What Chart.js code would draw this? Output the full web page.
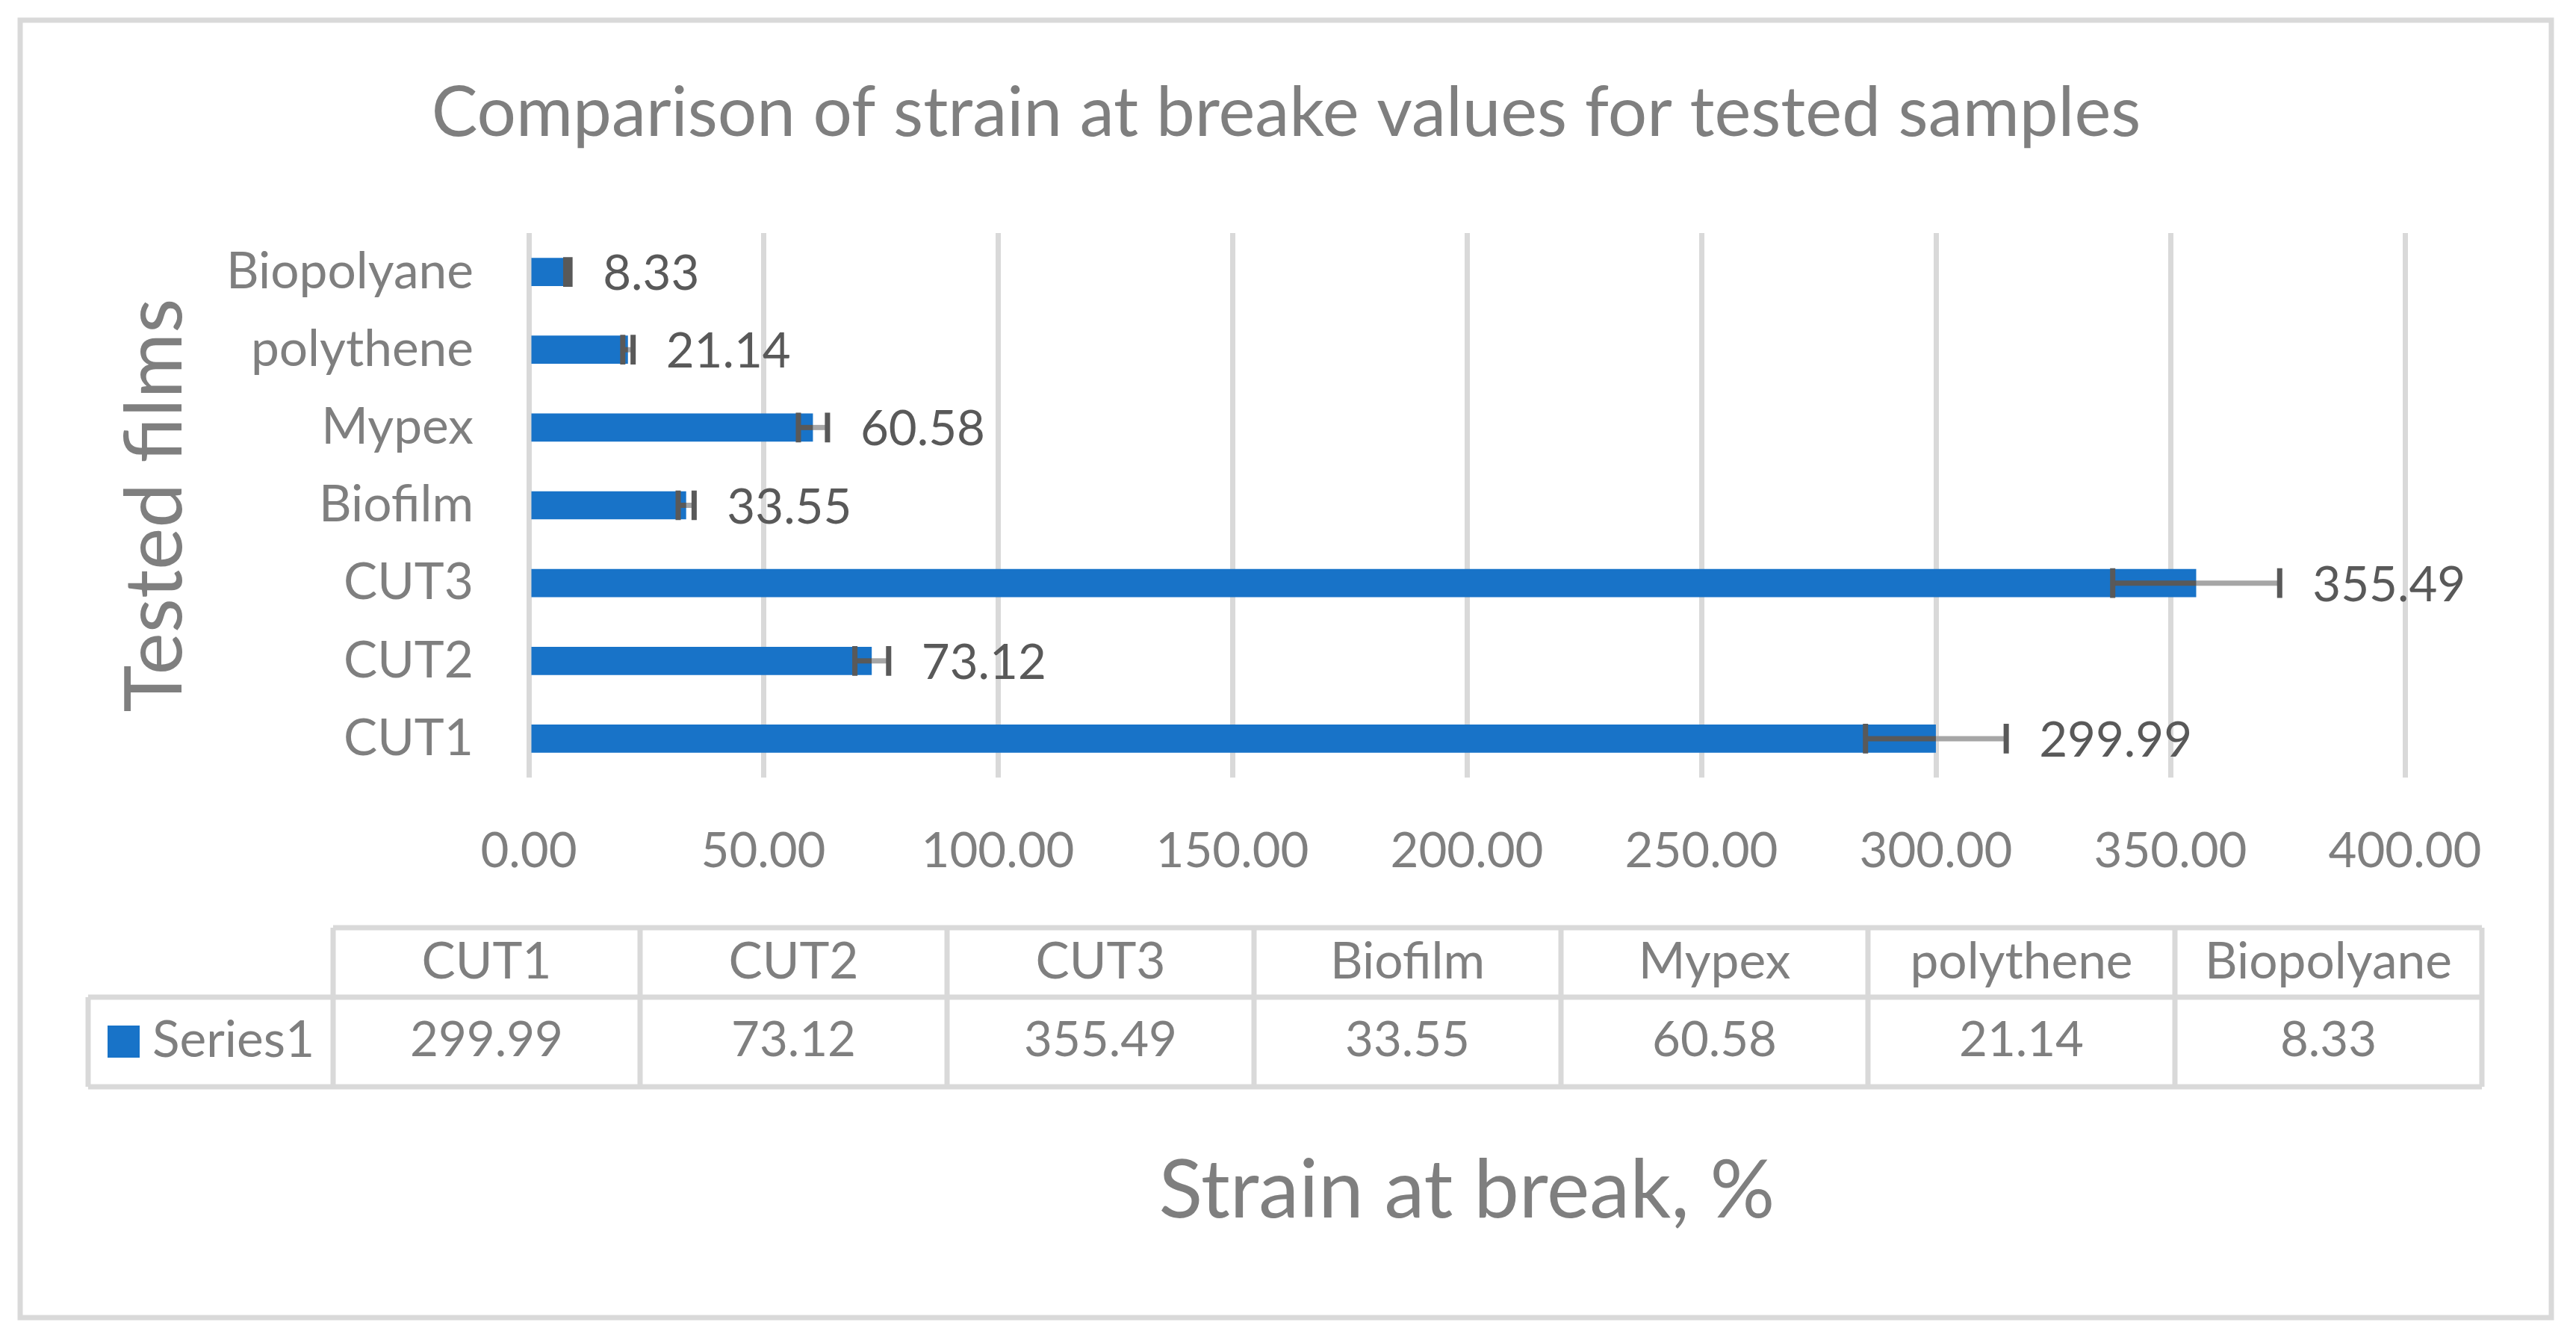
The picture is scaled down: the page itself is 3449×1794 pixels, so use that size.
<!DOCTYPE html>
<html><head><meta charset="utf-8">
<script src="https://cdn.jsdelivr.net/npm/chart.js@4.4.1/dist/chart.umd.min.js"></script>
<style>html,body{margin:0;padding:0;background:#fff;}canvas{display:block;}</style>
</head><body>
<canvas id="c" width="3449" height="1794" style="width:3449px;height:1794px"></canvas>
<script>
// ---- data ----
const categories = ['CUT1', 'CUT2', 'CUT3', 'Biofilm', 'Mypex', 'polythene', 'Biopolyane'];
const strainValues = [299.99, 73.12, 355.49, 33.55, 60.58, 21.14, 8.33];
const strainErrors = [15.0, 3.6, 17.8, 1.7, 3.1, 1.1, 0.45];
const xTickValues = [0, 50, 100, 150, 200, 250, 300, 350, 400];
const seriesName = 'Series1';
const chartTitle = 'Comparison of strain at breake values for tested samples';
const xAxisTitle = 'Strain at break, %';
const yAxisTitle = 'Tested films';

// ---- style ----
const FAMILY = 'Lato, "Open Sans", "Noto Sans", sans-serif';
const BLUE = '#1873C8';
const GRAY = '#7f7f7f';
const DARK = '#595959';
const LINE = '#d9d9d9';

function fit(text, target) {
  const c = document.createElement('canvas').getContext('2d');
  c.font = '100px ' + FAMILY;
  return 100 * target / c.measureText(text).width;
}

function build() {
  const numSize = fit('400.00', 205);
  const textSize = fit('Biopolyane', 331);
  const titleSize = fit(chartTitle, 2289);
  const xTitleSize = fit(xAxisTitle, 825);
  const yTitleSize = fit(yAxisTitle, 554);

  const extras = {
    id: 'extras',
    afterDatasetsDraw(chart) {
      const ctx = chart.ctx;
      const xs = chart.scales.x;
      const meta = chart.getDatasetMeta(0);
      ctx.save();
      meta.data.forEach((bar, i) => {
        const v = strainValues[i], e = strainErrors[i];
        const y = bar.y, h = bar.height;
        const xv = xs.getPixelForValue(v);
        const xl = xs.getPixelForValue(v - e);
        const xr = xs.getPixelForValue(v + e);
        ctx.lineWidth = 7;
        ctx.lineCap = 'butt';
        ctx.strokeStyle = '#a6a6a6';
        ctx.beginPath(); ctx.moveTo(xv, y); ctx.lineTo(xr, y); ctx.stroke();
        ctx.strokeStyle = DARK;
        ctx.beginPath(); ctx.moveTo(xl, y); ctx.lineTo(xv, y); ctx.stroke();
        ctx.beginPath();
        ctx.moveTo(xl, y - h / 2 - 1); ctx.lineTo(xl, y + h / 2 + 1);
        ctx.moveTo(xr, y - h / 2 - 1); ctx.lineTo(xr, y + h / 2 + 1);
        ctx.stroke();
        // data label
        ctx.fillStyle = DARK;
        ctx.font = numSize + 'px ' + FAMILY;
        ctx.textAlign = 'left';
        ctx.textBaseline = 'middle';
        ctx.fillText(v.toFixed(2), xr + 44, y + 3);
      });
      ctx.restore();
    },
    afterDraw(chart) {
      const ctx = chart.ctx;
      ctx.save();
      // outer border
      ctx.strokeStyle = LINE;
      ctx.lineWidth = 7;
      ctx.strokeRect(27, 27, 3389, 1737);
      // title
      ctx.fillStyle = GRAY;
      ctx.font = titleSize + 'px ' + FAMILY;
      ctx.textAlign = 'center';
      ctx.textBaseline = 'alphabetic';
      ctx.fillText(chartTitle, 1722, 182);
      // data table
      const tL = 446, tR = 3323, keyL = 118;
      const rTop = 1242, rMid = 1335, rBot = 1455;
      const colW = (tR - tL) / categories.length;
      ctx.strokeStyle = LINE;
      ctx.lineWidth = 7;
      ctx.beginPath();
      ctx.moveTo(tL, rTop); ctx.lineTo(tR, rTop);
      ctx.moveTo(keyL, rMid); ctx.lineTo(tR, rMid);
      ctx.moveTo(keyL, rBot); ctx.lineTo(tR, rBot);
      ctx.moveTo(keyL, rMid); ctx.lineTo(keyL, rBot);
      for (let i = 0; i <= categories.length; i++) {
        const x = tL + i * colW;
        ctx.moveTo(x, rTop); ctx.lineTo(x, rBot);
      }
      ctx.stroke();
      ctx.fillStyle = GRAY;
      ctx.textAlign = 'center';
      ctx.textBaseline = 'middle';
      categories.forEach((c, i) => {
        const cx = tL + (i + 0.5) * colW;
        ctx.font = textSize + 'px ' + FAMILY;
        ctx.fillText(c, cx, (rTop + rMid) / 2);
        ctx.font = numSize + 'px ' + FAMILY;
        ctx.fillText(strainValues[i].toFixed(2), cx, (rMid + rBot) / 2 - 2);
      });
      // legend key
      ctx.fillStyle = BLUE;
      ctx.fillRect(144, 1373, 43, 43);
      ctx.fillStyle = GRAY;
      ctx.textAlign = 'left';
      ctx.font = textSize + 'px ' + FAMILY;
      ctx.fillText(seriesName, 204, (rMid + rBot) / 2 - 2);
      ctx.restore();
    }
  };

  new Chart(document.getElementById('c').getContext('2d'), {
    type: 'bar',
    data: {
      labels: categories,
      datasets: [{
        label: seriesName,
        data: strainValues,
        backgroundColor: BLUE,
        borderWidth: 0,
        barPercentage: 0.362,
        categoryPercentage: 1
      }]
    },
    options: {
      indexAxis: 'y',
      responsive: false,
      animation: false,
      devicePixelRatio: 1,
      layout: { padding: { left: 0, top: 312, right: 229, bottom: 0 } },
      plugins: { legend: { display: false }, tooltip: { enabled: false }, title: { display: false } },
      scales: {
        x: {
          type: 'linear', position: 'bottom', min: 0, max: 400,
          afterBuildTicks: s => { s.ticks = xTickValues.map(v => ({ value: v })); },
          afterFit: s => { s.height = 753; },
          grid: { color: LINE, lineWidth: 7, drawTicks: false },
          border: { display: false },
          ticks: {
            padding: 60, color: GRAY, autoSkip: false, maxRotation: 0,
            font: { family: FAMILY, size: numSize },
            callback: v => Number(v).toFixed(2)
          },
          title: {
            display: true, text: xAxisTitle, color: GRAY,
            font: { family: FAMILY, size: xTitleSize, lineHeight: 1 },
            padding: { top: 0, bottom: 145 }
          }
        },
        y: {
          type: 'category', position: 'left', reverse: true,
          afterFit: s => { s.width = 708; },
          grid: { display: false, drawTicks: false },
          border: { display: false },
          ticks: { padding: 74, color: GRAY, font: { family: FAMILY, size: textSize } },
          title: {
            display: true, text: yAxisTitle, color: GRAY,
            font: { family: FAMILY, size: yTitleSize, lineHeight: 1 },
            padding: { top: 155, bottom: 0 }
          }
        }
      }
    },
    plugins: [extras]
  });
}

const loads = document.fonts && document.fonts.load
  ? Promise.all([document.fonts.load('65px Lato'), document.fonts.load('100px Lato')])
  : Promise.resolve();
loads.catch(() => {}).then(build);
</script>
</body></html>
